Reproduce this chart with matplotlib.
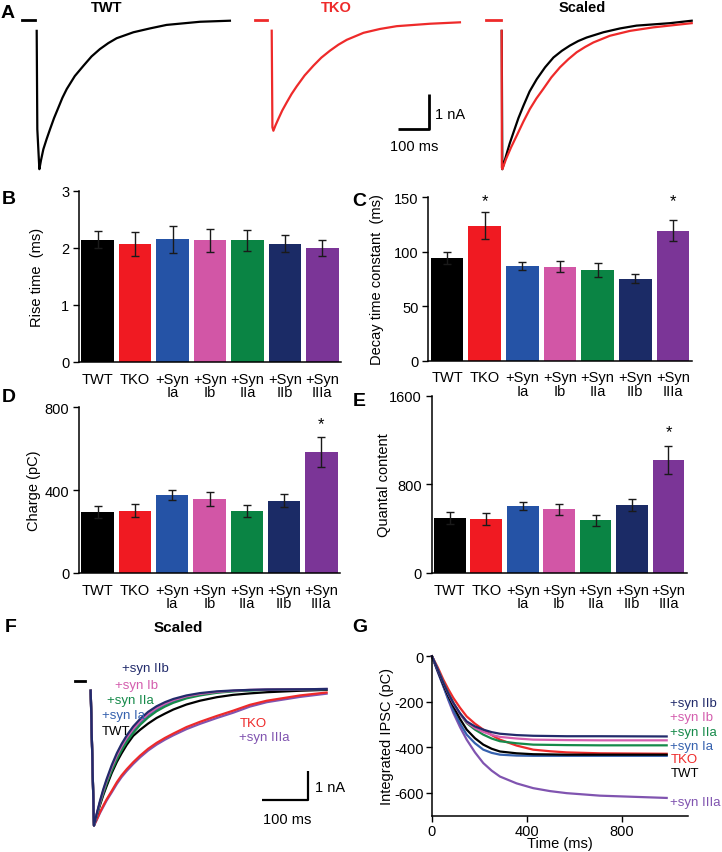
import matplotlib
matplotlib.use('Agg')
import matplotlib.pyplot as plt
import numpy as np

plt.rcParams['font.family'] = ['Liberation Sans', 'DejaVu Sans']
plt.rcParams['font.size'] = 10.5
plt.rcParams['axes.unicode_minus'] = False

# ---------------- data ----------------
categories = ['TWT', 'TKO', '+Syn\nIa', '+Syn\nIb', '+Syn\nIIa', '+Syn\nIIb', '+Syn\nIIIa']
bar_colors = ['#000000', '#F01A22', '#2553A6', '#D256A6', '#0A8444', '#1B2B66', '#7B3597']

rise_mean = [2.14, 2.06, 2.15, 2.13, 2.13, 2.07, 1.99]
rise_err = [0.15, 0.21, 0.24, 0.20, 0.19, 0.15, 0.14]
decay_mean = [94.0, 124.0, 86.6, 86.3, 83.0, 75.3, 119.4]
decay_err = [5.5, 12.5, 3.7, 5.2, 6.4, 4.3, 9.6]
charge_mean = [296, 301, 377, 357, 298, 349, 583]
charge_err = [29, 32, 26, 33, 30, 32, 72]
quantal_mean = [496, 487, 605, 575, 475, 611, 1020]
quantal_err = [52, 52, 39, 51, 48, 54, 129]

# Panel A example traces (time ms, current nA)
twt_t = [0, 2, 8.6, 14, 21.5, 32, 43, 56, 70, 83, 97, 123, 150.5, 177, 204, 231, 258, 312, 365.5, 419, 527, 623.5]
twt_i = [-0.29, -3.10, -4.24, -3.98, -3.67, -3.38, -3.10, -2.78, -2.48, -2.20, -1.95, -1.58, -1.29, -1.02,
         -0.81, -0.64, -0.50, -0.33, -0.22, -0.12, -0.03, 0.0]
tko_t = [0, 2.2, 5.4, 12, 21.5, 34, 48.4, 64, 80.6, 106, 134.4, 160, 188, 215, 242, 296, 349, 403, 511, 607]
tko_i = [-0.24, -3.00, -3.10, -2.95, -2.76, -2.52, -2.29, -2.05, -1.83, -1.52, -1.24, -1.01, -0.81, -0.64,
         -0.50, -0.30, -0.19, -0.11, -0.04, 0.0]
scl_twt_t = [0, 2, 14, 26, 38, 54, 70, 90, 113, 140, 167, 194, 220, 247, 274, 328, 382, 435, 543, 613]
scl_twt_i = [-0.29, -4.24, -3.86, -3.50, -3.19, -2.78, -2.43, -2.02, -1.67, -1.33, -1.05, -0.86, -0.71, -0.58,
             -0.48, -0.33, -0.22, -0.14, -0.07, 0.0]
scl_tko_t = [0, 0.5, 2, 14, 30, 48, 70, 91, 112, 134, 160, 188, 215, 242, 269, 296, 349, 414, 489, 613]
scl_tko_i = [-0.29, -4.19, -4.24, -3.95, -3.62, -3.29, -2.88, -2.52, -2.22, -1.95, -1.62, -1.33, -1.10, -0.90,
             -0.75, -0.62, -0.43, -0.29, -0.19, -0.07]

# Panel F scaled traces (time ms, current nA)
f_t = [0, 7, 13, 20, 27, 34, 45, 56, 66, 77, 91, 106, 123, 141, 159, 177, 205, 234, 270, 305, 341, 377, 448, 505]
f_traces = {
    '+syn IIIa': [-0.06, -4.66, -4.47, -4.23, -4.02, -3.81, -3.53, -3.24, -3.01, -2.80, -2.56, -2.33, -2.10, -1.90,
                  -1.73, -1.58, -1.37, -1.19, -0.99, -0.81, -0.60, -0.45, -0.27, -0.16],
    'TKO':       [-0.06, -4.66, -4.45, -4.20, -3.98, -3.77, -3.48, -3.18, -2.95, -2.74, -2.50, -2.27, -2.04, -1.84,
                  -1.67, -1.52, -1.30, -1.12, -0.92, -0.74, -0.54, -0.40, -0.22, -0.12],
    'TWT':       [-0.06, -4.66, -4.31, -3.96, -3.62, -3.32, -2.87, -2.49, -2.20, -1.91, -1.60, -1.39, -1.18, -0.99,
                  -0.84, -0.70, -0.53, -0.40, -0.28, -0.20, -0.15, -0.11, -0.06, -0.03],
    '+syn Ia':   [-0.06, -4.66, -4.28, -3.87, -3.50, -3.17, -2.71, -2.32, -2.01, -1.72, -1.40, -1.13, -0.89, -0.69,
                  -0.53, -0.41, -0.28, -0.18, -0.11, -0.07, -0.04, -0.02, -0.01, 0.0],
    '+syn IIa':  [-0.06, -4.66, -4.30, -3.91, -3.56, -3.23, -2.79, -2.40, -2.10, -1.81, -1.50, -1.22, -0.97, -0.76,
                  -0.60, -0.47, -0.32, -0.22, -0.13, -0.08, -0.05, -0.03, -0.01, -0.01],
    '+syn Ib':   [-0.06, -4.66, -4.27, -3.85, -3.47, -3.13, -2.67, -2.27, -1.96, -1.66, -1.36, -1.09, -0.85, -0.65,
                  -0.50, -0.38, -0.25, -0.17, -0.10, -0.06, -0.03, -0.02, -0.01, 0.0],
    '+syn IIb':  [-0.06, -4.66, -4.25, -3.81, -3.42, -3.08, -2.60, -2.19, -1.88, -1.59, -1.28, -1.02, -0.78, -0.59,
                  -0.45, -0.34, -0.22, -0.14, -0.08, -0.05, -0.03, -0.02, -0.01, 0.0],
}

# Panel G integrated IPSC (time ms, charge pC)
g_t = [0, 24, 48, 69, 90, 118, 146, 181, 216, 251, 286, 356, 426, 497, 567, 707, 988]
g_traces = {
    '+syn IIIa': [0, -68, -132, -193, -249, -311, -366, -422, -469, -502, -528, -558, -579, -592, -601, -612, -622],
    'TKO':       [0, -48, -103, -145, -183, -226, -264, -296, -322, -346, -366, -392, -410, -417, -422, -426, -428],
    '+syn Ia':   [0, -66, -132, -188, -238, -295, -344, -382, -410, -424, -432, -436, -437, -437, -437, -437, -437],
    'TWT':       [0, -62, -125, -175, -220, -275, -322, -360, -388, -406, -418, -426, -430, -431, -432, -432, -432],
    '+syn IIa':  [0, -56, -114, -163, -205, -253, -293, -322, -344, -361, -373, -382, -388, -389, -390, -391, -391],
    '+syn Ib':   [0, -57, -117, -166, -208, -253, -290, -315, -332, -345, -354, -361, -366, -367, -368, -369, -369],
    '+syn IIb':  [0, -57, -117, -164, -205, -250, -286, -308, -322, -333, -340, -346, -349, -350, -351, -351, -352],
}

trace_colors = {
    'TWT': '#000000', 'TKO': '#EE2A2A', '+syn Ia': '#3561AE', '+syn Ib': '#D45EAE',
    '+syn IIa': '#168A4A', '+syn IIb': '#222B6B', '+syn IIIa': '#8054B0',
}

# ---------------- figure ----------------
W, H = 722, 853
fig = plt.figure(figsize=(W / 100, H / 100), dpi=100)


def ax_px(l, t, r, b):
    return fig.add_axes([l / W, 1 - b / H, (r - l) / W, (b - t) / H])


def ftxt(x, y, s, **kw):
    kw.setdefault('va', 'center')
    fig.text(x / W, 1 - y / H, s, **kw)


# panel letters
for lab, (x, y) in {'A': (8, 13), 'B': (9, 200), 'C': (359, 201), 'D': (9, 398),
                    'E': (359, 402), 'F': (11, 628), 'G': (360, 628)}.items():
    ftxt(x, y, lab, ha='center', fontsize=14, fontweight='bold')

# ---------- Panel A ----------
a1 = ax_px(0, 0, 240, 180)
a1.set_xlim(-118.4, 656); a1.set_ylim(-4.52, 0.62)
a1.plot(twt_t, twt_i, color='black', lw=1.6)
a1.plot([-48, -5], [0.03, 0.03], color='black', lw=2)
a1.axis('off')
ftxt(107, 8, 'TWT', ha='center', fontweight='bold', fontsize=10.5)

a2 = ax_px(240, 0, 480, 180)
a2.set_xlim(-102.3, 671.7); a2.set_ylim(-4.48, 0.667)
a2.plot(tko_t, tko_i, color='#EE2A2A', lw=1.6)
a2.plot([-54, -14], [0.076, 0.076], color='#EE2A2A', lw=2)
a2.plot([407.6, 507.6, 507.6], [-3.05, -3.05, -2.05], color='black', lw=2, solid_capstyle='butt')
a2.axis('off')
ftxt(336, 8, 'TKO', ha='center', fontweight='bold', fontsize=10.5, color='#EE2A2A')
ftxt(435, 115, '1 nA', ha='left', fontsize=10.5)
ftxt(414, 147, '100 ms', ha='center', fontsize=10.5)

a3 = ax_px(480, 0, 722, 180)
a3.set_xlim(-70, 710.7); a3.set_ylim(-4.52, 0.62)
a3.plot(scl_twt_t, scl_twt_i, color='black', lw=1.6)
a3.plot(scl_tko_t, scl_tko_i, color='#EE2A2A', lw=1.6)
a3.plot([-50, -3], [0.03, 0.03], color='#EE2A2A', lw=2)
a3.axis('off')
ftxt(582, 8, 'Scaled', ha='center', fontweight='bold', fontsize=10.5)


# ---------- Bar panels ----------
def bar_panel(box, mean, err, ymax, yticks, ylabel, labx, stars, star_y):
    ax = ax_px(*box)
    x = np.arange(len(categories))
    ax.bar(x, mean, width=0.87, color=bar_colors, zorder=2)
    ax.errorbar(x, mean, yerr=err, fmt='none', ecolor='#1a1a1a', elinewidth=1.0,
                capsize=3, capthick=1.0, zorder=3)
    ax.set_xlim(-0.5, 6.5)
    ax.set_ylim(0, ymax)
    ax.set_yticks(yticks)
    for s in ['top', 'right']:
        ax.spines[s].set_visible(False)
    for s in ['left', 'bottom']:
        ax.spines[s].set_linewidth(1.1)
    ax.set_xticks(x)
    ax.set_xticklabels(categories, linespacing=0.92)
    ax.tick_params(axis='x', length=0, pad=7, labelsize=10.5)
    ax.tick_params(axis='y', direction='out', length=4, width=1, pad=3, labelsize=10.5)
    ax.set_ylabel(ylabel, fontsize=10.5)
    ax.yaxis.set_label_coords(labx, 0.5)
    for i in stars:
        ax.text(i, star_y, '*', ha='center', va='center', fontsize=12)
    return ax


bar_panel((79, 191.7, 341, 363), rise_mean, rise_err, 3, [0, 1, 2, 3],
          'Rise time  (ms)', -0.135, [], 0)
bar_panel((428.3, 198.3, 691.7, 361.7), decay_mean, decay_err, 150, [0, 50, 100, 150],
          'Decay time constant  (ms)', -0.17, [1, 6], 147)
bar_panel((79, 408.3, 340, 574), charge_mean, charge_err, 800, [0, 400, 800],
          'Charge (pC)', -0.145, [6], 719)
bar_panel((431.7, 396.7, 686.7, 574), quantal_mean, quantal_err, 1600, [0, 800, 1600],
          'Quantal content', -0.16, [6], 1275)

# ---------- Panel F ----------
af = ax_px(60, 650, 340, 840)
af.set_xlim(-65.7, 533.7); af.set_ylim(-5.12, 1.365)
for name, vals in f_traces.items():
    af.plot(f_t, vals, color=trace_colors[name], lw=1.6)
af.plot([-33.9, -12.5], [0.27, 0.27], color='black', lw=2)
af.plot([366, 466, 466], [-3.79, -3.79, -2.79], color='black', lw=1.6, solid_capstyle='butt')
af.axis('off')
ftxt(178, 628, 'Scaled', ha='center', fontweight='bold', fontsize=11)
ftxt(315, 788, '1 nA', ha='left', fontsize=10.5)
ftxt(287, 820, '100 ms', ha='center', fontsize=10.5)
f_labels = [('+syn IIb', 121.7, 669), ('+syn Ib', 115, 686), ('+syn IIa', 107.3, 701),
            ('+syn Ia', 101.7, 716), ('TWT', 101.7, 732), ('TKO', 239.3, 724),
            ('+syn IIIa', 239.3, 738.5)]
for name, x, y in f_labels:
    ftxt(x, y, name, ha='left', fontsize=9.5, color=trace_colors[name])

# ---------- Panel G ----------
ag = ax_px(432, 657.3, 688.3, 816.7)
for name, vals in g_traces.items():
    ag.plot(g_t, vals, color=trace_colors[name], lw=1.6, clip_on=False)
ag.set_xlim(0, 1079); ag.set_ylim(-700, 0)
ag.set_xticks([0, 400, 800]); ag.set_yticks([0, -200, -400, -600])
for s in ['top', 'right']:
    ag.spines[s].set_visible(False)
for s in ['left', 'bottom']:
    ag.spines[s].set_linewidth(1.1)
ag.tick_params(direction='out', length=4, width=1, labelsize=10.5, pad=2)
ag.set_xlabel('Time (ms)', fontsize=10.5)
ag.xaxis.set_label_coords(0.5, -0.125)
ag.set_ylabel('Integrated IPSC (pC)', fontsize=10.5)
ag.yaxis.set_label_coords(-0.15, 0.5)
g_labels = [('+syn IIb', 704), ('+syn Ib', 717.7), ('+syn IIa', 732.7), ('+syn Ia', 747.3),
            ('TKO', 760), ('TWT', 774), ('+syn IIIa', 803.3)]
for name, y in g_labels:
    ftxt(670.5, y, name, ha='left', fontsize=9.5, color=trace_colors[name])

fig.savefig('out.png', dpi=100)
